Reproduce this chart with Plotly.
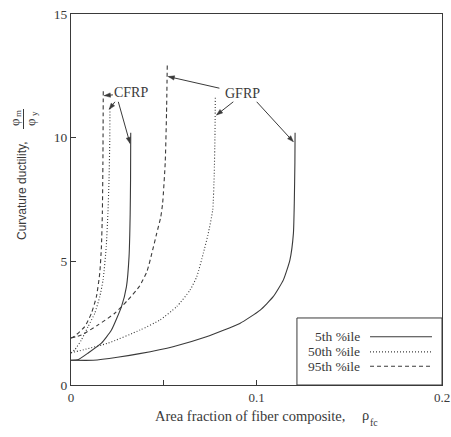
import math
import plotly.graph_objects as go

# ---- data ----
cfrp_5_x  = [0.0, 0.004, 0.009, 0.0164, 0.0218, 0.0272, 0.0299, 0.0313, 0.0319, 0.0321, 0.0322]
cfrp_5_y  = [1.0, 1.03, 1.28, 1.69, 2.22, 3.17, 3.98, 5.2, 6.9, 8.3, 10.2]

cfrp_50_x = [0.0, 0.002, 0.0056, 0.0092, 0.0128, 0.0155, 0.0173, 0.019, 0.0199, 0.0205, 0.0209, 0.021]
cfrp_50_y = [1.3, 1.42, 1.82, 2.36, 2.9, 3.57, 4.25, 5.59, 6.94, 8.3, 9.9, 11.2]

cfrp_95_x = [0.0, 0.002, 0.0074, 0.011, 0.0137, 0.0155, 0.0164, 0.0169, 0.0172, 0.0174]
cfrp_95_y = [1.9, 1.98, 2.36, 2.9, 3.57, 4.52, 5.59, 6.94, 9.0, 12.0]

gfrp_5_x  = [0.0, 0.012, 0.025, 0.037, 0.055, 0.073, 0.091, 0.102, 0.109, 0.1145, 0.118, 0.1199, 0.1204, 0.1207, 0.1208]
gfrp_5_y  = [1.0, 1.0, 1.12, 1.27, 1.55, 1.95, 2.49, 3.03, 3.57, 4.25, 5.05, 6.13, 7.48, 9.0, 10.2]

gfrp_50_x = [0.0, 0.008, 0.0199, 0.0372, 0.048, 0.057, 0.0642, 0.0678, 0.0713, 0.074, 0.0764, 0.0772, 0.0776, 0.0778]
gfrp_50_y = [1.3, 1.45, 1.69, 2.22, 2.63, 3.17, 3.84, 4.38, 5.32, 6.13, 7.08, 8.5, 10.0, 11.65]

gfrp_95_x = [0.0, 0.0056, 0.0146, 0.0236, 0.0307, 0.037, 0.041, 0.0435, 0.0462, 0.0484, 0.0494, 0.0508, 0.0515, 0.0519]
gfrp_95_y = [1.9, 2.02, 2.43, 2.9, 3.44, 4.0, 4.6, 5.3, 6.13, 6.8, 7.35, 9.0, 11.0, 12.94]

legend_labels = ["5th %ile", "50th %ile", "95th %ile"]
x_tick_vals = [0, 0.1, 0.2]
x_tick_text = ["0", "0.1", "0.2"]
y_tick_vals = [0, 5, 10, 15]
y_tick_text = ["0", "5", "10", "15"]

INK = "#3a3a3a"
SERIF = "Liberation Serif"
X_RANGE = [0, 0.2]
Y_RANGE = [0, 15]
PLOT_W = 371.0
PLOT_H = 371.0
styles = {"5": dict(dash="solid", width=1.1),
          "50": dict(dash="1px,2px", width=1.1),
          "95": dict(dash="4px,3px", width=1.1)}

fig = go.Figure()
series = [(cfrp_5_x, cfrp_5_y, "5"), (cfrp_50_x, cfrp_50_y, "50"), (cfrp_95_x, cfrp_95_y, "95"),
          (gfrp_5_x, gfrp_5_y, "5"), (gfrp_50_x, gfrp_50_y, "50"), (gfrp_95_x, gfrp_95_y, "95")]
for xs, ys, k in series:
    fig.add_trace(go.Scatter(x=xs, y=ys, mode="lines", showlegend=False, hoverinfo="skip",
                             line=dict(color=INK, shape="spline", smoothing=0.5, **styles[k])))

fig.update_layout(
    width=451, height=437,
    autosize=False,
    margin=dict(l=71, r=9, t=14, b=52, pad=0, autoexpand=False),
    paper_bgcolor="white", plot_bgcolor="white",
    font=dict(family=SERIF, size=12, color=INK),
    xaxis=dict(range=X_RANGE, tickvals=x_tick_vals, ticktext=x_tick_text, automargin=False,
               ticks="inside", ticklen=5, tickcolor=INK, showgrid=False, zeroline=False,
               showline=True, linecolor=INK, linewidth=1, mirror=True,
               minor=dict(dtick=0.05, ticks="inside", ticklen=5, tickcolor=INK, showgrid=False),
               tickfont=dict(family=SERIF, size=13, color=INK)),
    yaxis=dict(range=Y_RANGE, tickvals=y_tick_vals, ticktext=y_tick_text, automargin=False,
               ticks="inside", ticklen=5, tickcolor=INK, showgrid=False, zeroline=False,
               showline=True, linecolor=INK, linewidth=1, mirror=True,
               tickfont=dict(family=SERIF, size=13.5, color=INK)),
)

# Legend box (custom, text left of line sample)
fig.add_shape(type="rect", xref="x", yref="y", x0=0.1218, x1=0.2, y0=0, y1=2.71,
              line=dict(color=INK, width=1), fillcolor="white", layer="above")
leg_y = [1.95, 1.34, 0.76]
for lab, yy, k in zip(legend_labels, leg_y, ["5", "50", "95"]):
    fig.add_annotation(x=0.1562, y=yy, xref="x", yref="y", text=lab, showarrow=False,
                       xanchor="right", yanchor="middle", borderpad=0,
                       font=dict(family=SERIF, size=13.5, color=INK))
    fig.add_shape(type="line", xref="x", yref="y", x0=0.1612, x1=0.1946, y0=yy, y1=yy,
                  line=dict(color=INK, **styles[k]), layer="above")

# Labels with arrows
fig.add_annotation(x=0.0323, y=11.81, text="CFRP", showarrow=False,
                   font=dict(family=SERIF, size=14, color=INK))
fig.add_annotation(x=0.0927, y=11.79, text="GFRP", showarrow=False,
                   font=dict(family=SERIF, size=14, color=INK))
arrows = [((0.0226, 11.73), (0.0180, 11.7)),
          ((0.0237, 11.45), (0.0206, 11.15)),
          ((0.0255, 11.45), (0.0318, 9.77)),
          ((0.0800, 12.0), (0.0525, 12.47)),
          ((0.0875, 11.45), (0.0785, 10.92)),
          ((0.1001, 11.45), (0.1198, 9.84))]
sx = (X_RANGE[1] - X_RANGE[0]) / PLOT_W   # data units per pixel
sy = (Y_RANGE[1] - Y_RANGE[0]) / PLOT_H
for (tx, ty), (hx, hy) in arrows:
    fig.add_shape(type="line", xref="x", yref="y", x0=tx, y0=ty, x1=hx, y1=hy,
                  line=dict(color=INK, width=1))
    dx = (hx - tx) / sx
    dy = (hy - ty) / sy
    L = math.hypot(dx, dy)
    ux, uy = dx / L, dy / L
    px, py = -uy, ux
    hl, hw = 6.0, 2.2
    bx, by = -ux * hl, -uy * hl
    p1 = (hx + (bx + px * hw) * sx, hy + (by + py * hw) * sy)
    p2 = (hx + (bx - px * hw) * sx, hy + (by - py * hw) * sy)
    path = f"M {hx},{hy} L {p1[0]},{p1[1]} L {p2[0]},{p2[1]} Z"
    fig.add_shape(type="path", xref="x", yref="y", path=path,
                  line=dict(color=INK, width=0.5), fillcolor=INK)

def px2paper(ox, oy):
    return (ox - 71) / PLOT_W, (385 - oy) / PLOT_H

# X axis title
ax_, ay_ = px2paper(250, 416)
fig.add_annotation(xref="paper", yref="paper", x=ax_, y=ay_, xanchor="center", yanchor="middle",
                   text="Area fraction of fiber composite,", showarrow=False,
                   font=dict(family=SERIF, size=14.5, color=INK))
rx, ry = px2paper(365, 415)
fig.add_annotation(xref="paper", yref="paper", x=rx, y=ry, xanchor="center", yanchor="middle",
                   text="ρ", showarrow=False, font=dict(family=SERIF, size=14.5, color=INK))
fx, fy = px2paper(374, 422)
fig.add_annotation(xref="paper", yref="paper", x=fx, y=fy, xanchor="center", yanchor="middle",
                   text="fc", showarrow=False, font=dict(family=SERIF, size=10, color=INK))

# Y axis title
cx, cy = px2paper(22, 191)
fig.add_annotation(xref="paper", yref="paper", x=cx, y=cy,
                   text="Curvature ductility,", textangle=-90, showarrow=False,
                   xanchor="center", yanchor="middle",
                   font=dict(family="Liberation Sans", size=12, color=INK))
for sym, sub, ox in [("φ", "m", 15), ("φ", "y", 31)]:
    sxp, syp = px2paper(ox, 122)
    fig.add_annotation(xref="paper", yref="paper", x=sxp, y=syp, text=sym, textangle=-90,
                       showarrow=False, xanchor="center", yanchor="middle",
                       font=dict(family=SERIF, size=13, color=INK))
    bxp, byp = px2paper(ox + 3, 114)
    fig.add_annotation(xref="paper", yref="paper", x=bxp, y=byp, text=sub, textangle=-90,
                       showarrow=False, xanchor="center", yanchor="middle",
                       font=dict(family=SERIF, size=9, color=INK))
l0x, l0y = px2paper(23.5, 109)
l1x, l1y = px2paper(23.5, 129)
fig.add_shape(type="line", xref="paper", yref="paper", x0=l0x, x1=l1x, y0=l0y, y1=l1y,
              line=dict(color=INK, width=1))

fig.write_html("out.html",
               config={"displayModeBar": False, "staticPlot": True},
               post_script="document.body.style.margin='0';document.body.style.overflow='hidden';")
